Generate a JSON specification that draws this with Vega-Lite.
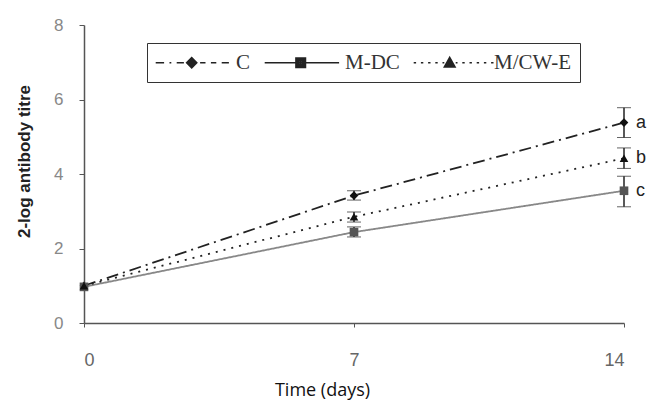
{
  "$schema": "https://vega.github.io/schema/vega-lite/v6.json",
  "width": 540,
  "height": 298,
  "autosize": "none",
  "padding": {"left": 84, "top": 25, "right": 26, "bottom": 80},
  "background": "white",
  "config": {"view": {"stroke": null}},
  "datasets": {
    "main": [
      {"group": "C", "day": 0, "mean": 1.0, "lo": null, "hi": null, "sig": null},
      {"group": "C", "day": 7, "mean": 3.42, "lo": 3.3, "hi": 3.55, "sig": null},
      {"group": "C", "day": 14, "mean": 5.38, "lo": 4.98, "hi": 5.78, "sig": "a"},
      {"group": "M-DC", "day": 0, "mean": 0.97, "lo": null, "hi": null, "sig": null},
      {"group": "M-DC", "day": 7, "mean": 2.44, "lo": 2.31, "hi": 2.58, "sig": null},
      {"group": "M-DC", "day": 14, "mean": 3.55, "lo": 3.12, "hi": 3.94, "sig": "c"},
      {"group": "M/CW-E", "day": 0, "mean": 1.0, "lo": null, "hi": null, "sig": null},
      {"group": "M/CW-E", "day": 7, "mean": 2.85, "lo": 2.71, "hi": 2.98, "sig": null},
      {"group": "M/CW-E", "day": 14, "mean": 4.42, "lo": 4.15, "hi": 4.7, "sig": "b"}
    ],
    "legendrows": [
      {"series": "C"},
      {"series": "M-DC"},
      {"series": "M/CW-E"}
    ]
  },
  "data": {"name": "main"},
  "encoding": {
    "x": {
      "field": "day", "type": "quantitative",
      "scale": {"domain": [0, 14], "nice": false, "zero": false},
      "axis": {
        "values": [0, 7, 14], "grid": false,
        "title": "Time (days)", "titleFont": "Open Sans", "titleFontSize": 18, "titleFontWeight": "normal", "titleColor": "#111",
        "titleX": 238, "titleY": 67, "titleBaseline": "middle",
        "labelFont": "Liberation Sans", "labelFontSize": 18, "labelColor": "#666", "labelPadding": 24,
        "tickSize": 4, "tickColor": "#555", "domainColor": "#555", "domainWidth": 1.5
      }
    },
    "y": {
      "field": "mean", "type": "quantitative",
      "scale": {"domain": [0, 8], "nice": false},
      "axis": {
        "values": [0, 2, 4, 6, 8], "grid": false,
        "title": "2-log antibody titre", "titleFont": "Liberation Sans", "titleFontSize": 17, "titleFontWeight": "bold", "titleColor": "#222",
        "titleX": -60, "titleY": 136, "titleAlign": "center", "titleBaseline": "middle", "titleAngle": -90,
        "labelFont": "Liberation Sans", "labelFontSize": 17, "labelColor": "#888", "labelPadding": 16,
        "tickSize": 5, "tickColor": "#555", "domainColor": "#555", "domainWidth": 1.5
      }
    }
  },
  "layer": [
    {
      "mark": {"type": "line", "strokeWidth": 1.8},
      "encoding": {
        "detail": {"field": "group"},
        "color": {"field": "group", "type": "nominal", "legend": null,
          "scale": {"domain": ["C", "M-DC", "M/CW-E"], "range": ["#222222", "#888888", "#222222"]}},
        "strokeDash": {"field": "group", "type": "nominal", "legend": null,
          "scale": {"domain": ["C", "M-DC", "M/CW-E"], "range": [[12, 5, 2, 5], [1, 0], [2, 6]]}}
      }
    },
    {
      "transform": [{"filter": "datum.lo != null"}],
      "mark": {"type": "errorbar", "ticks": {"size": 14}, "rule": {"strokeWidth": 1.5}, "color": "#222"},
      "encoding": {
        "y": {"field": "lo", "type": "quantitative"},
        "y2": {"field": "hi"}
      }
    },
    {
      "mark": {"type": "point", "filled": true, "opacity": 1, "size": 75},
      "encoding": {
        "shape": {"field": "group", "type": "nominal", "legend": null,
          "scale": {"domain": ["C", "M-DC", "M/CW-E"], "range": ["diamond", "square", "triangle-up"]}},
        "color": {"field": "group", "type": "nominal", "legend": null,
          "scale": {"domain": ["C", "M-DC", "M/CW-E"], "range": ["#111111", "#555555", "#111111"]}}
      }
    },
    {
      "transform": [{"filter": "datum.sig != null"}],
      "mark": {"type": "text", "align": "left", "baseline": "middle", "dx": 12, "font": "Liberation Sans", "fontSize": 18, "color": "#222"},
      "encoding": {"text": {"field": "sig"}}
    },
    {
      "data": {"name": "legendrows"},
      "mark": {"type": "point", "filled": false, "opacity": 1, "color": "#222", "strokeWidth": 1.5},
      "encoding": {
        "x": {"field": "day", "type": "quantitative"},
        "y": {"field": "mean", "type": "quantitative"},
        "shape": {"field": "series", "type": "nominal",
          "scale": {"domain": ["C", "M-DC", "M/CW-E"], "range": [
            "M-1.8,0L-0.4,0M0.5,0L0.8,0M1.7,0L2.9,0M4.2,-0.85L5.05,0L4.2,0.85L3.35,0ZM4.2,-0.6L4.8,0L4.2,0.6L3.6,0ZM4.2,-0.35L4.55,0L4.2,0.35L3.85,0ZM3.35,0L5.05,0M4.2,-0.85L4.2,0.85M5.6,0L6.5,0M7.4,0L8.3,0M9.2,0L10.4,0",
            "M-1.8,0L10.6,0M3.4,-0.8L5,-0.8L5,0.8L3.4,0.8ZM3.65,-0.55L4.75,-0.55L4.75,0.55L3.65,0.55ZM3.9,-0.3L4.5,-0.3L4.5,0.3L3.9,0.3ZM4.2,-0.8L4.2,0.8",
            "M-1.8,0L-1.4,0M-0.6,0L-0.2,0M0.6,0L1,0M1.8,0L2.2,0M3,0L3.3,0M4.2,-0.9L5.1,0.7L3.3,0.7ZM3.44,0.45L4.96,0.45M3.58,0.2L4.82,0.2M3.72,-0.05L4.68,-0.05M3.86,-0.3L4.54,-0.3M4,-0.55L4.4,-0.55M4.2,-0.9L4.2,0.7M5.2,0L5.5,0M6.3,0L6.7,0M7.5,0L7.9,0M8.7,0L9.1,0M9.9,0L10.3,0M11.1,0L11.5,0"
          ]},
          "legend": {
            "title": null, "orient": "none", "legendX": 63, "legendY": 18, "direction": "horizontal",
            "strokeColor": "#333", "fillColor": "white", "padding": 9,
            "symbolSize": 144, "symbolStrokeWidth": 1.5, "symbolStrokeColor": "#222",
            "labelOffset": 59, "columnPadding": 10,
            "labelFont": "Liberation Serif", "labelFontSize": 21, "labelColor": "#333",
            "encode": {
              "legend": {"strokeWidth": {"value": 1.5}},
              "symbols": {
                "strokeWidth": {"value": 1.5},
                "strokeOpacity": {"value": 1},
                "opacity": {"value": 1}
              }
            }
          }
        }
      }
    }
  ],
  "resolve": {"scale": {"shape": "independent", "color": "independent"}}
}
